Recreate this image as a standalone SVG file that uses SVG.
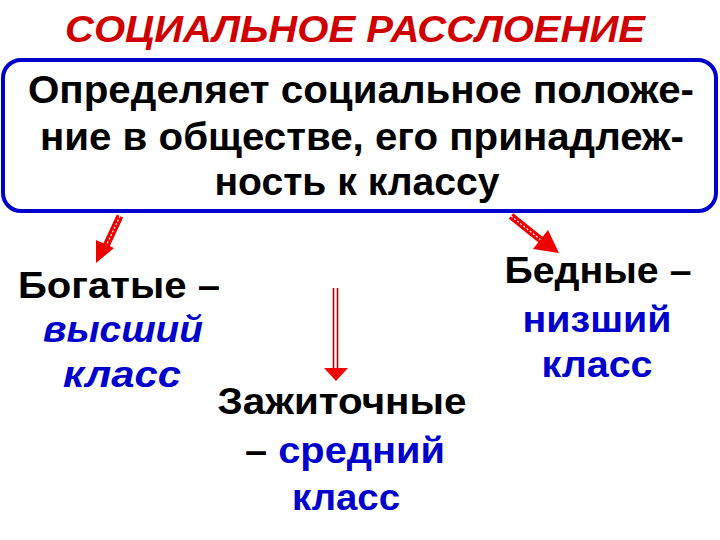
<svg xmlns="http://www.w3.org/2000/svg" width="720" height="540" viewBox="0 0 720 540">
<style>
text{font-family:"Liberation Sans",Arial,sans-serif;font-weight:bold;font-size:37px;}
.k{fill:#000;}
.b{fill:#0000cc;}
.i{font-style:italic;}
.box{font-size:39px;}
.arr{stroke:#ee0000;stroke-width:7;fill:none;}
.hatch{stroke:#ffffff;stroke-width:1.2;stroke-dasharray:2 2;fill:none;}
</style>
<rect width="720" height="540" fill="#ffffff"/>
<g id="title">
<text x="355" y="42" text-anchor="middle" fill="#d00000" class="i" font-size="38" textLength="580" lengthAdjust="spacingAndGlyphs">СОЦИАЛЬНОЕ РАССЛОЕНИЕ</text>
</g>
<g id="main">
<rect x="3" y="60" width="713" height="151" rx="18" ry="18" fill="#ffffff" stroke="#0000cc" stroke-width="4"/>
<text class="k box" x="361" y="103" text-anchor="middle" textLength="666" lengthAdjust="spacingAndGlyphs">Определяет социальное положе-</text>
<text class="k box" x="362" y="150" text-anchor="middle" textLength="644" lengthAdjust="spacingAndGlyphs">ние в обществе, его принадлеж-</text>
<text class="k box" x="357" y="195" text-anchor="middle" textLength="285" lengthAdjust="spacingAndGlyphs">ность к классу</text>
</g>
<g id="connectors">
<line class="arr" x1="120" y1="216" x2="106" y2="246"/>
<line class="hatch" x1="120" y1="216" x2="106" y2="246"/>
<polygon points="96,263 96,240 114,248" fill="#ee0000"/>
<line x1="333.5" y1="288" x2="333.5" y2="370" stroke="#b00000" stroke-width="1.6"/>
<line x1="337.5" y1="288" x2="337.5" y2="370" stroke="#b00000" stroke-width="1.6"/>
<polygon points="324,368 348,368 336,381" fill="#ee0000"/>
<line class="arr" x1="511" y1="216" x2="541" y2="240"/>
<line class="hatch" x1="511" y1="216" x2="541" y2="240"/>
<polygon points="559,253 533,249 548,230" fill="#ee0000"/>
</g>
<g id="rich">
<text class="k" x="18" y="298" textLength="202" lengthAdjust="spacingAndGlyphs">Богатые –</text>
<text class="b i" x="123" y="342" text-anchor="middle" textLength="160" lengthAdjust="spacingAndGlyphs">высший</text>
<text class="b i" x="122" y="387" text-anchor="middle" textLength="118" lengthAdjust="spacingAndGlyphs">класс</text>
</g>
<g id="middle">
<text class="k" x="342" y="414" text-anchor="middle" textLength="249" lengthAdjust="spacingAndGlyphs">Зажиточные</text>
<text x="345" y="463" text-anchor="middle" textLength="200" lengthAdjust="spacingAndGlyphs"><tspan class="k">– </tspan><tspan class="b">средний</tspan></text>
<text class="b" x="346" y="510" text-anchor="middle" textLength="108" lengthAdjust="spacingAndGlyphs">класс</text>
</g>
<g id="poor">
<text class="k" x="598" y="283" text-anchor="middle" textLength="187" lengthAdjust="spacingAndGlyphs">Бедные –</text>
<text class="b" x="597" y="332" text-anchor="middle" textLength="149" lengthAdjust="spacingAndGlyphs">низший</text>
<text class="b" x="597" y="377" text-anchor="middle" textLength="111" lengthAdjust="spacingAndGlyphs">класс</text>
</g>
</svg>
